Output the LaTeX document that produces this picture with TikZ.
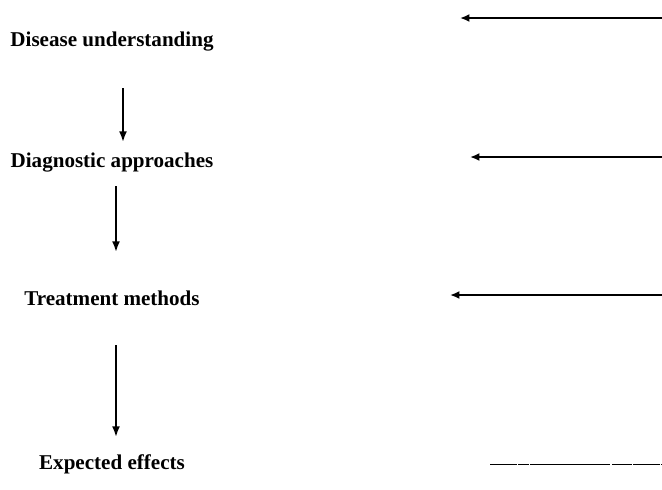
\documentclass[tikz,border=0pt]{standalone}
\usepackage{fontspec}
\setmainfont{Liberation Serif}
\usetikzlibrary{arrows.meta}
\begin{document}
\begin{tikzpicture}[x=0.75pt,y=-0.75pt,
        stage/.style={font=\fontsize{15.8}{19}\selectfont\bfseries},
        flow/.style={line width=1.5pt,-{Latex[length=8pt,width=6pt]}},
        feed/.style={line width=2pt,-{Latex[length=7pt,width=6pt]}}]
            \useasboundingbox (0,0) rectangle (662,490);
            \foreach \y/\n/\t in {42/dis/Disease understanding,163/dia/Diagnostic approaches,298/tre/Treatment methods,464/exp/Expected effects}
            {
                \draw node[stage] (\n) at (112,\y) {\t};
            }
            \foreach \n/\x/\a/\b in {v1/123/88/142,v2/116/186/252,v3/116/345/437}
            {
                \coordinate (\n top) at (\x,\a);
                \coordinate (\n bot) at (\x,\b);
                \draw[flow] (\n top) -- (\n bot);
            }
            \foreach \n/\y/\a in {h1/18/460,h2/157/470,h3/295/450}
            {
                \coordinate (\n in) at (662,\y);
                \coordinate (\n out) at (\a,\y);
                \draw[feed] (\n in) -- (\n out);
            }
                \coordinate (b1) at (490,464);
                \coordinate (b2) at (662,464);
                \draw[line width=0.7pt,dash pattern=on 20pt off 1pt on 8pt off 1pt on 60pt off 1.5pt on 15pt off 1pt] (b1) -- (b2);

        \end{tikzpicture}
\end{document}
